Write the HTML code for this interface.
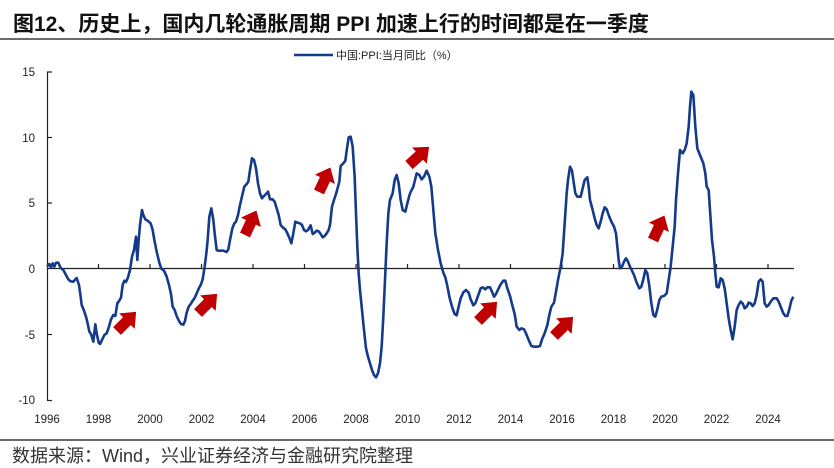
<!DOCTYPE html>
<html><head><meta charset="utf-8"><style>
body{margin:0;background:#fff;}
svg{display:block;font-family:"Liberation Sans","Noto Sans CJK SC",sans-serif;}
</style></head><body>
<svg width="834" height="468" viewBox="0 0 834 468" xmlns="http://www.w3.org/2000/svg">
<text x="13" y="31" font-size="21" font-weight="bold" fill="#111">图12、历史上，国内几轮通胀周期 PPI 加速上行的时间都是在一季度</text>
<line x1="0" y1="39" x2="834" y2="39" stroke="#111" stroke-width="1.2"/>
<line x1="294" y1="55" x2="333" y2="55" stroke="#143a8c" stroke-width="2.6"/>
<text x="336" y="59" font-size="11" fill="#222">中国:PPI:当月同比（%）</text>
<g font-size="11.5" fill="#222" text-anchor="end">
<text x="35" y="76">15</text><text x="35" y="142">10</text><text x="35" y="207">5</text><text x="35" y="273">0</text><text x="35" y="339">-5</text><text x="35" y="404">-10</text>
</g>
<g stroke="#222" stroke-width="1.2">
<line x1="47.5" y1="72" x2="47.5" y2="401"/>
<line x1="47" y1="72" x2="52" y2="72"/><line x1="47" y1="137.5" x2="52" y2="137.5"/><line x1="47" y1="203" x2="52" y2="203"/><line x1="47" y1="334.5" x2="52" y2="334.5"/><line x1="47" y1="400.5" x2="52" y2="400.5"/>
<line x1="47" y1="268.5" x2="794" y2="268.5"/>
<line x1="98.5" y1="264" x2="98.5" y2="268"/><line x1="150" y1="264" x2="150" y2="268"/><line x1="201.5" y1="264" x2="201.5" y2="268"/><line x1="253" y1="264" x2="253" y2="268"/><line x1="304.5" y1="264" x2="304.5" y2="268"/><line x1="356" y1="264" x2="356" y2="268"/><line x1="407.5" y1="264" x2="407.5" y2="268"/><line x1="459" y1="264" x2="459" y2="268"/><line x1="510.5" y1="264" x2="510.5" y2="268"/><line x1="562" y1="264" x2="562" y2="268"/><line x1="613.5" y1="264" x2="613.5" y2="268"/><line x1="665" y1="264" x2="665" y2="268"/><line x1="716.5" y1="264" x2="716.5" y2="268"/><line x1="768" y1="264" x2="768" y2="268"/>
</g>
<g font-size="11.5" fill="#222" text-anchor="middle">
<text x="47" y="423">1996</text><text x="98.5" y="423">1998</text><text x="150" y="423">2000</text><text x="201.5" y="423">2002</text><text x="253" y="423">2004</text><text x="304.5" y="423">2006</text><text x="356" y="423">2008</text><text x="407.5" y="423">2010</text><text x="459" y="423">2012</text><text x="510.5" y="423">2014</text><text x="562" y="423">2016</text><text x="613.5" y="423">2018</text><text x="665" y="423">2020</text><text x="716.5" y="423">2022</text><text x="768" y="423">2024</text>
</g>
<g fill="none" stroke="#143a8c" stroke-width="7.8" stroke-linejoin="round">
<polyline transform="translate(0,40) scale(0.33333)" points="141,680 148,672 153,682 158,670 163,680 168,668 175,668 182,684 190,690 198,705 205,718 212,724 220,725 226,718 230,714 237,735 242,770 245,795 252,812 258,830 263,850 268,875 273,882 280,905 286,853 290,880 296,908 300,912 306,900 313,885 320,880 327,860 333,838 340,825 346,828 352,790 358,782 363,773 368,735 373,722 378,726 384,712 390,690 396,650 402,630 408,590 412,660 416,600 420,555 426,510 430,525 436,538 444,543 452,550 458,570 463,600 470,635 478,668 484,686 492,692 500,710 507,735 513,762 518,800 524,810 530,828 537,843 543,852 550,854 555,843 560,818 566,800 572,792 578,782 584,774 590,760 597,744 603,733 608,718 614,680 619,640 623,600 628,530 634,505 640,540 644,580 650,630 655,632 670,632 680,636 685,628 690,600 697,565 703,550 708,545 714,525 720,495 727,465 733,440 740,432 745,425 750,390 756,355 762,360 768,385 774,430 780,460 786,475 792,468 798,462 804,455 810,478 818,478 824,485 830,505 836,525 842,555 848,562 856,568 862,580 868,593 874,610 880,580 886,545 892,548 900,550 906,555 912,570 918,574 924,570 932,556 938,582 944,578 950,572 956,574 962,582 968,592 974,588 980,580 986,570 990,555 996,500 1002,480 1008,462 1014,440 1018,425 1022,378 1030,370 1036,362 1041,325 1046,292 1052,290 1058,320 1064,410 1068,520 1072,620 1076,700 1080,750 1086,810 1092,870 1098,925 1104,950 1110,970 1116,990 1122,1005 1128,1012 1134,1000 1140,970 1145,920 1150,830 1155,720 1160,610 1165,520 1170,480 1178,460 1184,420 1190,405 1196,430 1202,480 1208,510 1216,515 1222,490 1230,460"/>
<polyline transform="translate(410,40) scale(0.33333)" points="0,460 10,440 20,400 28,405 35,418 42,410 50,392 58,410 64,440 70,510 76,580 84,630 92,670 100,698 106,712 112,738 118,770 126,800 134,822 140,826 146,800 152,775 160,757 168,750 176,758 182,778 190,796 196,790 204,768 212,745 218,742 226,748 232,742 240,742 246,755 252,770 258,762 266,745 272,733 280,722 286,722 292,745 300,768 308,800 314,822 320,860 328,870 334,865 342,868 348,880 356,900 364,918 372,920 382,920 390,918 396,898 404,880 412,855 418,825 424,800 432,788 438,755 444,720 452,680 458,640 462,580 466,520 470,460 474,420 480,380 486,392 490,420 496,460 502,470 512,470 518,445 524,420 532,412 536,440 540,480 548,510 554,535 560,555 566,565 572,545 578,520 584,502 590,508 596,525 604,545 612,560 618,580 622,620 626,660 630,685 636,680 642,665 648,655 654,665 660,680 666,692 672,705 680,728 688,745 694,740 700,718 706,690 712,700 718,738 724,790 730,825 736,830 742,808 748,780 754,770 762,768 770,760 776,720 782,680 788,620 794,560 798,480 804,400 810,330 818,340 824,330 830,310 836,260 840,200 844,155 850,165 856,260 862,325 868,340 874,355 880,370 886,400 890,440 896,450 900,510 906,600 912,650 916,700 920,740 926,742 932,715 938,720 944,745 950,790 956,835 962,870 968,898 974,860 980,810 986,795 992,785 998,790 1004,805 1010,800 1016,788 1022,790 1028,798 1034,790 1040,765 1046,725 1052,718 1058,725 1064,790 1070,800 1076,795 1082,785 1090,775 1100,775 1106,785 1112,800 1120,820 1126,828 1132,828 1138,808 1144,782 1150,770"/>
</g>
<defs><polygon id="ar" points="0,-5.5 14,-5.5 14,-11 27,0 14,11 14,5.5 0,5.5" fill="#c00000"/></defs>
<use href="#ar" transform="translate(117,331) rotate(-45)"/>
<use href="#ar" transform="translate(198,313) rotate(-45)"/>
<use href="#ar" transform="translate(245,235) rotate(-65)"/>
<use href="#ar" transform="translate(319,192) rotate(-65)"/>
<use href="#ar" transform="translate(409,165) rotate(-42)"/>
<use href="#ar" transform="translate(478,321) rotate(-45)"/>
<use href="#ar" transform="translate(554,336) rotate(-45)"/>
<use href="#ar" transform="translate(653,240) rotate(-65)"/>
<line x1="0" y1="440" x2="834" y2="440" stroke="#111" stroke-width="1.2"/>
<text x="12" y="462" font-size="18" fill="#333">数据来源：Wind，兴业证券经济与金融研究院整理</text>
</svg>
</body></html>
